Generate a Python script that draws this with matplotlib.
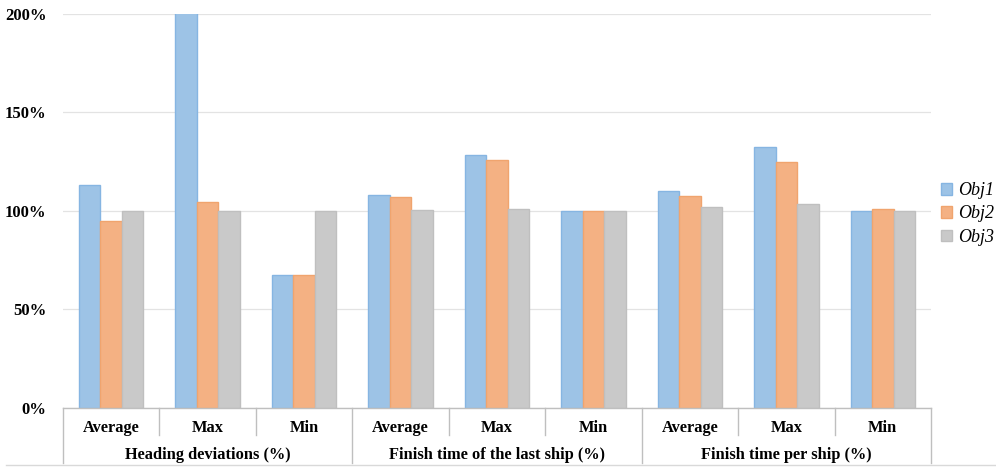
import numpy as np
import matplotlib
matplotlib.use('Agg')
import matplotlib.pyplot as plt
from matplotlib.transforms import blended_transform_factory
from matplotlib.lines import Line2D

# data (in %)
groups = ['Heading deviations (%)', 'Finish time of the last ship (%)', 'Finish time per ship (%)']
stats = ['Average', 'Max', 'Min']
obj1 = [113, 201, 67.5, 108, 128.5, 100, 110, 132.5, 100]
obj2 = [95, 104.5, 67.5, 107, 125.5, 100, 107.5, 124.5, 100.8]
obj3 = [100, 100, 100, 100.3, 101, 100, 102, 103.5, 100]
series_names = ['Obj1', 'Obj2', 'Obj3']

plt.rcParams['font.family'] = ['Liberation Serif', 'DejaVu Serif']

fig = plt.figure(figsize=(9.96, 4.70), dpi=100)
ax = fig.add_axes([63/996, 62/470, 868/996, 394.5/470])

n = len(obj1)
x = np.arange(n)
w = 0.223
fills = ['#9DC3E6', '#F4B183', '#C9C9C9']
edges = ['#86B5E2', '#F0A46E', '#BFBFBF']
for i, vals in enumerate([obj1, obj2, obj3]):
    ax.bar(x + (i - 1) * w, np.array(vals) / 100, w, color=fills[i],
           edgecolor=edges[i], linewidth=1.0, label=series_names[i], zorder=3)

ax.set_xlim(-0.5, n - 0.5)
ax.set_ylim(0, 2.0)
ax.set_yticks([0, 0.5, 1.0, 1.5, 2.0])
ax.set_yticklabels(['0%', '50%', '100%', '150%', '200%'], fontsize=12, fontweight='bold')
ax.tick_params(axis='y', length=0, pad=12)
ax.set_xticks([])
ax.grid(axis='y', color='#E3E3E3', linewidth=0.9, zorder=0)
for s in ['top', 'right', 'left']:
    ax.spines[s].set_visible(False)
ax.spines['bottom'].set_color('#BFBFBF')
ax.spines['bottom'].set_linewidth(1.0)
ax.spines['bottom'].set_zorder(4)

# multi-level category axis
tr = blended_transform_factory(ax.transData, fig.transFigure)
y_axis = 62/470
y_inner = (470 - 435)/470
y_outer = (470 - 463)/470
for k in range(n + 1):
    xb = k - 0.5
    bottom = y_outer if k % 3 == 0 else y_inner
    fig.add_artist(Line2D([xb, xb], [y_axis, bottom], transform=tr,
                          color='#BFBFBF', linewidth=1.0))
for k in range(n):
    fig.text(k, (470 - 428)/470, stats[k % 3], transform=tr, ha='center', va='center',
             fontsize=11.8, fontweight='bold')
for g in range(len(groups)):
    fig.text(3 * g + 1, (470 - 455)/470, groups[g], transform=tr, ha='center', va='center',
             fontsize=11.8, fontweight='bold')

# faint chart border at bottom
fig.add_artist(Line2D([6/996, 1], [5/470, 5/470], transform=fig.transFigure,
                      color='#D9D9D9', linewidth=1.0))

leg = ax.legend(loc='center left', bbox_to_anchor=(941/996, (470 - 214)/470),
                bbox_transform=fig.transFigure, frameon=False,
                prop={'style': 'italic', 'size': 13},
                handlelength=0.6, handleheight=0.6, handletextpad=0.35,
                labelspacing=0.35, borderaxespad=0, borderpad=0)

fig.savefig('out.png', dpi=100)
